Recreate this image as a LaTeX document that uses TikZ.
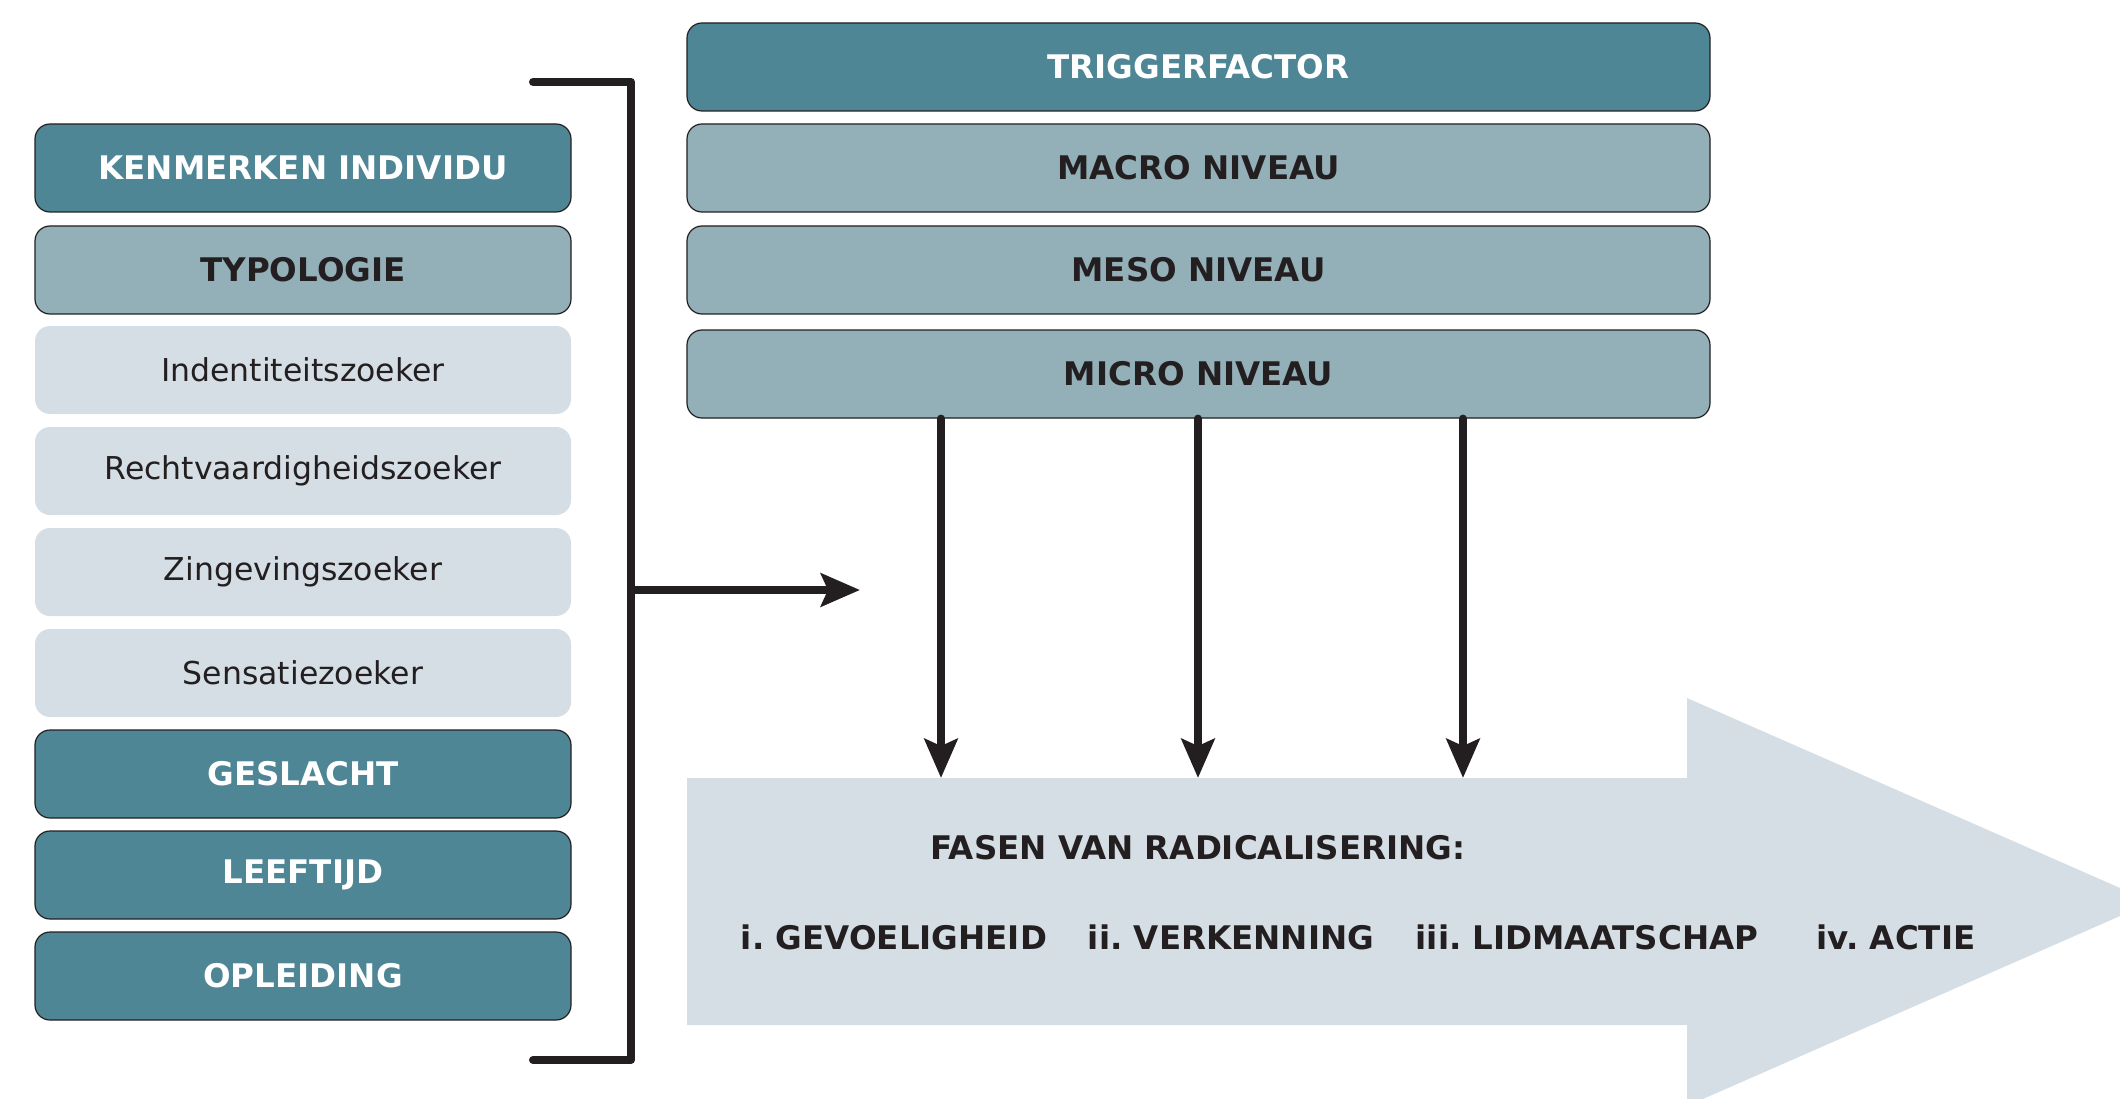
\documentclass[tikz,border=0pt]{standalone}
\usepackage{fontspec}
\setmainfont{DejaVu Sans}
\usetikzlibrary{arrows.meta}
\definecolor{tealdark}{HTML}{4E8696}
\definecolor{tealmid}{HTML}{93AFB8}
\definecolor{greylight}{HTML}{D5DEE5}
\definecolor{inkdark}{HTML}{231F20}
\frenchspacing
\tikzset{
  basebox/.style={rounded corners=15pt, minimum height=88pt, inner sep=0pt,
    font=\fontsize{31.5}{36}\selectfont},
  darkbox/.style={basebox, fill=tealdark, draw=inkdark, line width=1.2pt, text=white,
    font=\fontsize{32.5}{36}\selectfont\bfseries},
  midbox/.style={basebox, fill=tealmid, draw=inkdark, line width=1.2pt, text=inkdark,
    font=\fontsize{32.5}{36}\selectfont\bfseries},
  lightbox/.style={basebox, fill=greylight, text=inkdark},
  leftcol/.style={minimum width=536pt},
  rightcol/.style={minimum width=1023pt},
  conn/.style={draw=inkdark, line width=8pt, line cap=round, line join=round},
  arr/.style={conn, -{Stealth[length=39pt, width=33pt, inset=7pt]}},
  phase/.style={text=inkdark, font=\fontsize{32.5}{36}\selectfont\bfseries, inner sep=0pt}
}
\begin{document}
\begin{tikzpicture}[x=1pt,y=-1pt]
\useasboundingbox (0,0) rectangle (2120,1099);
\clip (0,0) rectangle (2120,1099);
% big arrow
\fill[greylight] (687,778) -- (1687,778) -- (1687,698) -- (2152,902) -- (1687,1106) -- (1687,1025) -- (687,1025) -- cycle;
\node[phase] (fasen) at (1198,848) {FASEN VAN RADICALISERING:};
\node[phase] (p1) at (894,937) {i. GEVOELIGHEID};
\node[phase] (p2) at (1231,937) {ii. VERKENNING};
\node[phase] (p3) at (1587,937) {iii. LIDMAATSCHAP};
\node[phase] (p4) at (1896,937) {iv. ACTIE};
% left column
\node[darkbox, leftcol] (l1) at (303,168) {KENMERKEN INDIVIDU};
\node[midbox, leftcol] (l2) at (303,270) {TYPOLOGIE};
\node[lightbox, leftcol] (l3) at (303,370) {Indentiteitszoeker};
\node[lightbox, leftcol] (l4) at (303,471) {Rechtvaardigheidszoeker};
\node[lightbox, leftcol] (l5) at (303,572) {Zingevingszoeker};
\node[lightbox, leftcol] (l6) at (303,673) {Sensatiezoeker};
\node[darkbox, leftcol] (l7) at (303,774) {GESLACHT};
\node[darkbox, leftcol] (l8) at (303,875) {LEEFTIJD};
\node[darkbox, leftcol] (l9) at (303,976) {OPLEIDING};
% right column
\node[darkbox, rightcol] (r1) at (1198.5,67) {TRIGGERFACTOR};
\node[midbox, rightcol] (r2) at (1198.5,168) {MACRO NIVEAU};
\node[midbox, rightcol] (r3) at (1198.5,270) {MESO NIVEAU};
\node[midbox, rightcol] (r4) at (1198.5,374) {MICRO NIVEAU};
% bracket
\coordinate (bt) at (533,82);
\coordinate (bb) at (533,1060);
\coordinate (bm) at (631,590);
\coordinate (bend) at (860,590);
\draw[conn] (bt) -- (631,82) -- (631,1060) -- (bb);
\draw[arr] (bm) -- (bend);
% vertical arrows
\coordinate (a1) at (941,778);
\coordinate (a2) at (1198,778);
\coordinate (a3) at (1463,778);
\draw[arr] (r4.south -| a1) -- (a1);
\draw[arr] (r4.south -| a2) -- (a2);
\draw[arr] (r4.south -| a3) -- (a3);
\end{tikzpicture}
\end{document}
